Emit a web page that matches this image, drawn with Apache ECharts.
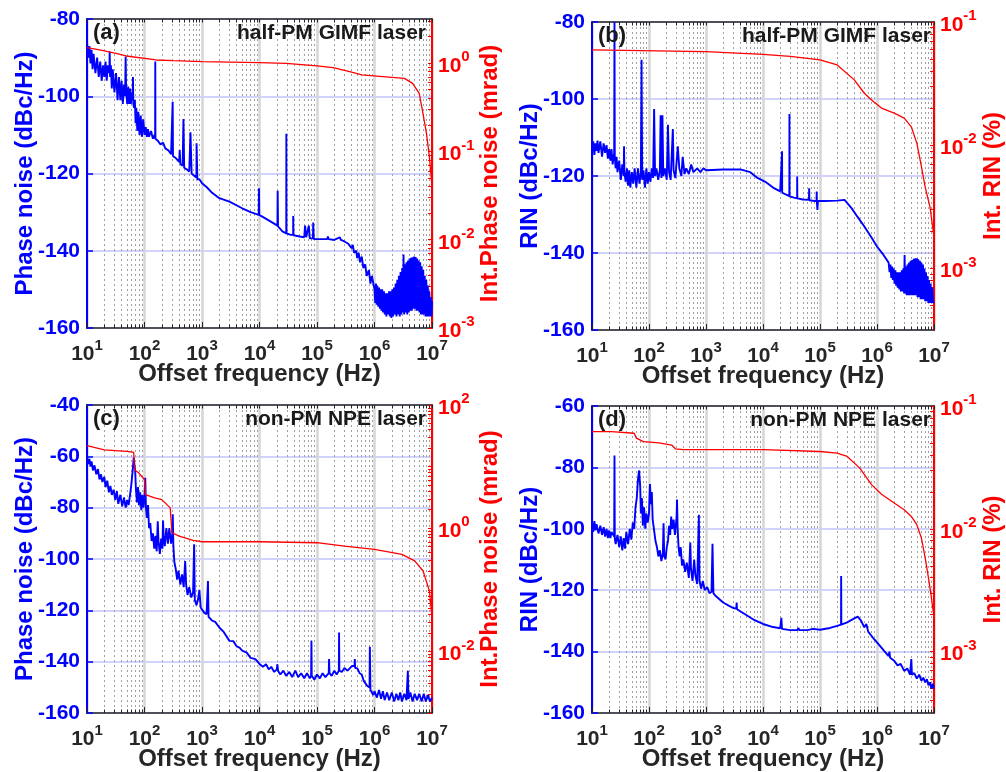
<!DOCTYPE html>
<html><head><meta charset="utf-8">
<script src="https://cdn.jsdelivr.net/npm/echarts@6/dist/echarts.min.js"></script>
<style>html,body{margin:0;padding:0;background:#fff}#c{width:1006px;height:772px}</style>
</head><body><div id="c"></div>
<script>
// ---------- data ----------
const xDecades = [10, 100, 1e3, 1e4, 1e5, 1e6, 1e7];
const xTitle = 'Offset frequency (Hz)';

// (a) half-PM GIMF laser, phase noise [Hz, dBc/Hz]
const phaseNoiseA = [[10,-86],[10.5,-90],[11,-87],[11.5,-91.5],[12,-88],[12.5,-93],[13,-89],[14,-94],[15,-90],[16,-95],[17,-91],[18,-96],[19,-92],[20,-95],[21,-91],[22,-96],[23,-92],[24.5,-94],[24.8,-88.4],[25.2,-95],[26,-92],[27,-98],[28,-93],[30,-99],[32,-94],[34,-101],[36,-95],[38,-101],[40,-96],[42,-102],[44,-97],[46,-100],[47,-89.7],[48,-99],[50,-102],[52,-97.5],[54,-102],[56,-98],[58,-102],[60,-99],[62,-101],[63,-95],[64,-102],[66,-103],[68,-101],[70,-107],[72,-103],[75,-109],[78,-104],[82,-110],[86,-105],[90,-110.5],[95,-106],[100,-110],[105,-108],[110,-110.5],[115,-108.5],[120,-110.5],[130,-109],[140,-111],[150,-110],[153,-111],[154,-91],[155,-111],[170,-111.5],[190,-112.5],[210,-112],[230,-113.5],[260,-114],[290,-115],[305,-115],[309,-101.4],[313,-115.5],[350,-116],[400,-117],[410,-113.9],[420,-117.5],[460,-118],[476,-105.9],[490,-118.5],[550,-119],[600,-119.5],[630,-109.3],[660,-120],[720,-120.5],[800,-121],[805,-112.2],[830,-121.5],[900,-121.5],[1000,-122.5],[1200,-123.5],[1500,-125],[2000,-126.4],[3000,-127.3],[5000,-129],[7000,-130],[9700,-130.7],[9800,-123.8],[9900,-130.7],[14000,-132],[20500,-133.5],[20700,-124.5],[21000,-133.7],[25000,-135],[29200,-135.5],[29300,-109.7],[29500,-135.5],[35000,-135.9],[38500,-135.9],[38600,-131],[39000,-136],[50000,-136.3],[60000,-136.5],[62000,-133.5],[65000,-136.5],[72000,-133.5],[75000,-136.8],[85000,-136.8],[86000,-132.7],[88000,-137],[1e5,-137],[1.5e5,-137],[1.55e5,-136.3],[1.6e5,-137],[2e5,-137.2],[2.5e5,-136.5],[2.6e5,-137.2],[3e5,-137.6],[3.5e5,-138.2],[4e5,-139.3],[4.2e5,-138.5],[4.4e5,-140.5],[4.8e5,-140],[5e5,-141.9],[5.3e5,-140.5],[5.6e5,-143],[6e5,-141.5],[6.4e5,-144.5],[6.9e5,-143.5],[7.3e5,-146.5],[8e5,-145],[8.5e5,-148.5],[9e5,-146.5],[1e6,-150],[1.03e6,-153.5],[1.06e6,-148.5],[1.09e6,-154],[1.12e6,-149],[1.16e6,-154.5],[1.2e6,-149.5],[1.24e6,-155],[1.28e6,-150],[1.32e6,-155.5],[1.36e6,-150],[1.41e6,-156],[1.46e6,-150.5],[1.51e6,-156.5],[1.56e6,-151],[1.61e6,-157],[1.67e6,-151],[1.73e6,-156.5],[1.79e6,-150.5],[1.85e6,-157],[1.91e6,-150.5],[1.97e6,-157.4],[2.04e6,-150],[2.11e6,-157],[2.18e6,-149.5],[2.25e6,-156.5],[2.33e6,-148.5],[2.41e6,-157],[2.49e6,-147.5],[2.57e6,-156.5],[2.66e6,-146.5],[2.75e6,-157],[2.84e6,-145.5],[2.93e6,-156.5],[3.03e6,-144.5],[3.13e6,-156],[3.2e6,-141],[3.28e6,-156.5],[3.38e6,-143.5],[3.49e6,-156],[3.6e6,-143],[3.71e6,-156.5],[3.83e6,-142.5],[3.95e6,-156],[4.07e6,-142],[4.2e6,-155.5],[4.33e6,-141.8],[4.46e6,-155.5],[4.6e6,-141.7],[4.74e6,-155],[4.89e6,-141.5],[5.04e6,-155],[5.2e6,-141.6],[5.36e6,-155.5],[5.52e6,-142],[5.69e6,-155.5],[5.87e6,-142.5],[6.05e6,-156],[6.24e6,-143],[6.43e6,-156.5],[6.63e6,-144],[6.83e6,-156.5],[7.04e6,-145],[7.26e6,-156.5],[7.48e6,-146.5],[7.71e6,-157],[7.95e6,-147.5],[8.2e6,-157],[8.45e6,-149],[8.71e6,-157],[8.98e6,-150.5],[9.26e6,-157],[9.55e6,-152],[9.8e6,-157],[1e7,-153]];
// (a) integrated phase noise [Hz, mrad]
const intPhaseA = [[10,1.497],[16.6,1.41],[32,1.29],[48,1.205],[160,1.086],[315,1.067],[1000,1.04],[1e4,1.014],[2.9e4,0.996],[3e4,0.953],[1e5,0.929],[1.9e5,0.889],[3.7e5,0.801],[6e5,0.735],[1.4e6,0.704],[3.3e6,0.673],[4.6e6,0.59],[6e6,0.455],[6.8e6,0.294],[8e6,0.161],[9e6,0.0873],[1e7,0.0399]];

// (b) half-PM GIMF laser, RIN [Hz, dBc/Hz]
const rinB = [[10,-113],[10.5,-111],[11,-114.5],[11.5,-111.5],[12,-113.5],[12.5,-110.8],[13,-114],[14,-111],[15,-115],[16,-111.5],[17,-114],[18,-112],[19,-115.5],[20,-113],[21,-116],[22,-113],[23,-117],[24.5,-114],[24.8,-80],[25.1,-115],[26,-118],[27,-115],[28,-119],[30,-116],[32,-121],[34,-117],[36,-120],[36.5,-112.3],[37,-119],[39,-121.5],[41,-118],[43,-122.5],[45,-118.5],[47,-123],[50,-119],[53,-122],[56,-118],[60,-123],[64,-118],[68,-122],[72,-119],[74,-89.8],[76,-121],[80,-118.5],[85,-123],[90,-118],[95,-122],[100,-119],[106,-121.5],[112,-118],[118,-120.5],[123,-102.6],[128,-120],[135,-118],[145,-121],[155,-118.5],[160,-104.2],[165,-120.5],[172,-104.2],[178,-120],[190,-118],[205,-121],[215,-106.7],[225,-119],[240,-121],[262,-107.8],[270,-118.5],[290,-120.5],[320,-112.3],[340,-118],[370,-120],[390,-115],[420,-119.5],[450,-118],[500,-119.5],[550,-117],[600,-119],[700,-118],[800,-119],[900,-118],[1000,-118.5],[2000,-118.3],[4000,-118.3],[6000,-119],[8000,-120.5],[11000,-121.5],[15000,-123],[20000,-124],[21500,-124.2],[21600,-113.6],[21700,-124.3],[25000,-124.8],[29000,-125.2],[29100,-103.9],[29300,-125.3],[35000,-125.6],[39700,-125.8],[39800,-120.1],[40000,-125.8],[50000,-126.1],[64000,-126.2],[64500,-123.2],[65000,-126.3],[80000,-126.5],[87000,-126.5],[87500,-124],[88000,-126.5],[90000,-128.8],[92000,-126.5],[1.2e5,-126.5],[2e5,-126.4],[2.7e5,-126.2],[3.2e5,-127.5],[3.6e5,-128.4],[4.5e5,-130.5],[6e5,-133.1],[8e5,-136],[1e6,-138.3],[1.3e6,-140.5],[1.6e6,-142.5],[1.66e6,-145],[1.72e6,-143],[1.78e6,-146.5],[1.84e6,-143.5],[1.9e6,-147],[1.96e6,-144],[2.03e6,-148],[2.1e6,-144.5],[2.17e6,-148.5],[2.24e6,-145],[2.31e6,-149],[2.39e6,-145],[2.47e6,-149.5],[2.55e6,-145],[2.63e6,-150],[2.72e6,-144.5],[2.81e6,-150],[2.9e6,-144],[2.99e6,-150.5],[3.05e6,-140.5],[3.12e6,-150.5],[3.22e6,-143.5],[3.32e6,-151],[3.43e6,-143],[3.54e6,-151],[3.65e6,-142.5],[3.77e6,-151],[3.89e6,-142],[4.01e6,-151],[4.14e6,-141.8],[4.27e6,-151],[4.41e6,-141.5],[4.55e6,-151],[4.69e6,-141.4],[4.84e6,-151],[4.99e6,-141.4],[5.15e6,-151.5],[5.31e6,-141.6],[5.48e6,-151.5],[5.65e6,-142],[5.83e6,-152],[6.01e6,-142.5],[6.2e6,-152],[6.4e6,-143],[6.6e6,-152],[6.81e6,-144],[7.02e6,-152.5],[7.24e6,-145],[7.47e6,-152.5],[7.71e6,-146],[7.95e6,-153],[8.2e6,-147],[8.46e6,-153],[8.73e6,-148],[9e6,-153],[9.3e6,-149],[9.6e6,-153],[1e7,-152.5]];
// (b) integrated RIN [Hz, %]
const intRinB = [[10,0.0593],[1000,0.0574],[1e4,0.0547],[3e4,0.0525],[1e5,0.0492],[2e5,0.0448],[4e5,0.0339],[6e5,0.0264],[8e5,0.0233],[1.2e6,0.02],[2e6,0.0182],[3e6,0.0166],[4e6,0.0141],[5e6,0.01035],[6e6,0.00676],[7e6,0.00457],[8.5e6,0.00316],[1e7,0.0018]];

// (c) non-PM NPE laser, phase noise [Hz, dBc/Hz]
const phaseNoiseC = [[10,-60],[10.5,-63],[11,-61],[11.5,-64],[12,-62],[12.7,-65.5],[13.5,-63.5],[14.5,-67],[15.5,-65],[16.5,-69],[17.5,-67],[18.5,-70],[20,-68],[21,-72],[22.5,-69.5],[24,-74],[25.5,-71.5],[27,-75],[29,-73],[31,-77],[33,-73.5],[35,-78.5],[38,-75],[41,-79.5],[44,-76],[47,-80],[50,-77],[53,-79],[56,-75],[59,-71],[62,-66],[65,-60.5],[67,-60],[69,-66],[71,-73],[74,-78],[77,-72],[80,-79],[84,-74],[88,-81],[92,-75],[96,-80],[100,-76],[103,-68.4],[106,-80],[110,-84],[115,-79],[120,-88],[126,-86],[133,-93],[140,-90],[148,-96],[155,-91],[163,-97],[170,-85.3],[175,-93],[185,-98],[195,-92],[205,-96],[210,-85],[215,-91],[225,-95],[240,-88],[255,-94],[270,-88],[290,-94],[305,-90],[310,-82.6],[318,-95],[330,-101],[350,-104],[370,-108],[390,-104.5],[420,-110],[450,-106],[480,-111],[510,-100.8],[530,-110],[560,-114],[600,-111],[650,-115],[700,-113],[730,-94.3],[750,-116],[800,-118],[850,-116],[900,-112],[950,-119],[1000,-119.5],[1100,-121],[1200,-121.5],[1270,-108.6],[1300,-122.5],[1500,-124],[1700,-124.5],[2000,-126.7],[2400,-128.5],[3000,-131.9],[3500,-132],[4000,-134],[4500,-134.5],[5000,-135.7],[6000,-136.5],[7000,-138.5],[8500,-139],[1e4,-140.9],[1.15e4,-142],[1.3e4,-141],[1.45e4,-143],[1.6e4,-142],[1.8e4,-144],[2e4,-143],[2.05e4,-141],[2.1e4,-143.5],[2.3e4,-145],[2.6e4,-143.5],[2.9e4,-145.5],[3.3e4,-144],[3.7e4,-146],[4.2e4,-143.5],[4.7e4,-146],[5.3e4,-144.5],[6e4,-146.5],[6.7e4,-144.5],[7.5e4,-146.5],[7.9e4,-145.5],[8e4,-131.9],[8.1e4,-145.5],[9e4,-147],[1e5,-145],[1.12e5,-146.5],[1.25e5,-144.5],[1.4e5,-146],[1.6e5,-144.5],[1.62e5,-139],[1.65e5,-144.5],[1.8e5,-145.5],[2e5,-143.5],[2.2e5,-145],[2.4e5,-143.5],[2.42e5,-128.6],[2.45e5,-143.5],[2.7e5,-144],[3e5,-142.5],[3.4e5,-143.5],[4e5,-141.8],[4.5e5,-141.6],[4.55e5,-139],[4.6e5,-142.5],[5e5,-142.5],[5.5e5,-144.5],[6e5,-145],[6.5e5,-147.5],[7e5,-147],[7.5e5,-149.5],[8e5,-149],[8.2e5,-150],[8.3e5,-134.2],[8.5e5,-151],[9e5,-150.5],[9.5e5,-153],[1e6,-151.5],[1.1e6,-154],[1.2e6,-151],[1.3e6,-154.5],[1.4e6,-151.5],[1.5e6,-155],[1.65e6,-152],[1.8e6,-155],[2e6,-152],[2.2e6,-155.5],[2.4e6,-152.5],[2.6e6,-155],[2.8e6,-152],[3e6,-155.5],[3.3e6,-152.5],[3.6e6,-155],[3.8e6,-143.5],[3.9e6,-154.5],[4.2e6,-152],[4.6e6,-155.5],[5e6,-152.5],[5.5e6,-155],[6e6,-152.5],[6.6e6,-155.5],[7.2e6,-152.5],[7.8e6,-155.5],[8.5e6,-153],[9.2e6,-155.5],[1e7,-154]];
// (c) integrated phase noise [Hz, mrad]
const intPhaseC = [[10,22.0],[20,18.7],[50,17.6],[65,17.0],[67,8.9],[80,7.85],[100,6.12],[104,3.51],[150,3.10],[200,2.91],[280,2.14],[300,0.843],[400,0.745],[700,0.634],[1000,0.603],[1e4,0.603],[1e5,0.581],[3e5,0.513],[1e6,0.453],[3e6,0.376],[5e6,0.294],[7e6,0.202],[9e6,0.0962],[1e7,0.0356]];

// (d) non-PM NPE laser, RIN [Hz, dBc/Hz]
const rinD = [[10,-98],[10.5,-101],[11,-97.5],[11.5,-100.5],[12,-98.5],[13,-101.5],[14,-99],[15,-102],[16,-99.5],[17,-102.5],[18,-100],[19,-103],[20,-100.5],[21,-103],[22,-101],[24.5,-102.5],[24.8,-76.1],[25.1,-103],[26,-105],[28,-102],[30,-106],[32,-102.5],[34,-107],[36,-103],[38,-106.5],[40,-101],[43,-105],[46,-100],[49,-103.5],[52,-98],[55,-100],[58,-93],[61,-90],[64,-84],[67,-81],[70,-86],[72,-95],[75,-90],[78,-99],[82,-93],[86,-100],[90,-95],[95,-98],[100,-95],[104,-85.4],[108,-92],[112,-88],[116,-97],[122,-100],[130,-104],[138,-106],[146,-109],[155,-107],[165,-110.5],[175,-108],[180,-98.2],[185,-109],[195,-110],[205,-106],[215,-104],[225,-99],[235,-102],[245,-96],[255,-100],[270,-97],[285,-102],[305,-96],[310,-90.5],[318,-100],[330,-106],[345,-109],[360,-106],[380,-112],[400,-110],[430,-114],[460,-111],[500,-116],[530,-104.5],[545,-113],[580,-117],[620,-110],[650,-115],[700,-118],[750,-95.4],[770,-117],[820,-119.5],[880,-117],[950,-120],[1050,-119],[1150,-121],[1250,-120.5],[1300,-104.9],[1350,-121],[1500,-122],[2000,-124],[2500,-125],[3000,-125.8],[3400,-126],[3450,-124],[3500,-126.2],[5000,-128],[7000,-129.7],[1e4,-131],[1.5e4,-132],[2e4,-132.4],[2.1e4,-129],[2.15e4,-132.6],[3e4,-133],[4e4,-133],[4.2e4,-132.3],[4.3e4,-133],[6e4,-133],[7.5e4,-132.6],[1e5,-132.9],[1.5e5,-132.3],[2e5,-131.6],[2.34e5,-131.2],[2.35e5,-115.4],[2.37e5,-131.2],[3e5,-130.5],[4e5,-129.2],[4.6e5,-128.6],[5.2e5,-129.8],[6e5,-132.1],[6.5e5,-131],[7e5,-133.5],[8.5e5,-135.5],[1e6,-137],[1.3e6,-139.5],[1.6e6,-141.5],[1.65e6,-140],[1.7e6,-142],[2e6,-143],[2.3e6,-144.5],[2.6e6,-144],[3e6,-146.3],[3.4e6,-145.5],[3.8e6,-147.5],[4e6,-142.4],[4.1e6,-147.5],[4.5e6,-147],[5e6,-148.8],[5.5e6,-147.5],[6e6,-149.5],[6.5e6,-148.5],[7e6,-150],[7.5e6,-149],[8e6,-151],[8.5e6,-150],[9e6,-152],[9.5e6,-150.5],[1e7,-152]];
// (d) integrated RIN [Hz, %]
const intRinD = [[10,0.0619],[22,0.0619],[23,0.06],[55,0.06],[60,0.0547],[80,0.0513],[150,0.0501],[200,0.049],[250,0.0481],[290,0.0448],[400,0.0442],[1e4,0.0442],[1e5,0.0426],[2e5,0.0413],[3e5,0.0388],[5e5,0.0312],[8e5,0.0229],[1.2e6,0.0191],[2e6,0.0162],[3e6,0.0143],[4e6,0.0126],[5e6,0.0108],[6e6,0.00843],[7e6,0.00581],[8e6,0.00398],[9e6,0.00275],[1e7,0.0019]];

// ---------- panels ----------
const panels = [
  {tag:'(a)', note:'half-PM GIMF laser', left:87, top:19, h:309, yName:'Phase noise (dBc/Hz)', yMin:-160, yMax:-80,
   rName:'Int.Phase noise (mrad)', rMin:1e-3, rMax:Math.pow(10,0.5), rLabels:[1e-3,1e-2,1e-1,1],
   blue:phaseNoiseA, red:intPhaseA, yGap:50, rGap:46},
  {tag:'(b)', note:'half-PM GIMF laser', left:592, top:22, h:308, yName:'RIN (dBc/Hz)', yMin:-160, yMax:-80,
   rName:'Int. RIN (%)', rMin:Math.pow(10,-3.5), rMax:0.1, rLabels:[1e-3,1e-2,1e-1],
   blue:rinB, red:intRinB, yGap:50, rGap:47},
  {tag:'(c)', note:'non-PM NPE laser', left:87, top:405, h:309, yName:'Phase noise (dBc/Hz)', yMin:-160, yMax:-40,
   rName:'Int.Phase noise (mrad)', rMin:1e-3, rMax:100, rLabels:[1e-2,1,100],
   blue:phaseNoiseC, red:intPhaseC, yGap:50, rGap:46},
  {tag:'(d)', note:'non-PM NPE laser', left:592, top:406, h:308, yName:'RIN (dBc/Hz)', yMin:-160, yMax:-60,
   rName:'Int. RIN (%)', rMin:Math.pow(10,-3.5), rMax:0.1, rLabels:[1e-3,1e-2,1e-1],
   blue:rinD, red:intRinD, yGap:50, rGap:47}
];

const FONT = '"Liberation Sans", Arial, sans-serif';
const BLUE = '#0000ff', RED = '#ff0000', DARK = '#262626';
const xMinor = [];
for (const d of [10,100,1e3,1e4,1e5,1e6]) for (let k = 2; k <= 9; k++) xMinor.push(d * k);
const xAll = xDecades.concat(xMinor);
const rAll = [];
for (let e = -4; e <= 2; e++) for (let k = 1; k <= 9; k++) rAll.push(k * Math.pow(10, e));

function powLabel(v) {
  const e = Math.round(Math.log10(v));
  return '{b|10}{s|' + e + '}';
}
function richFor(color) {
  return {
    b: {fontSize: 21, fontWeight: 'bold', fontFamily: FONT, color: color, lineHeight: 27, verticalAlign: 'bottom'},
    s: {fontSize: 15, fontWeight: 'bold', fontFamily: FONT, color: color, lineHeight: 16, verticalAlign: 'top'}
  };
}

const grid = [], xAxis = [], yAxis = [], series = [], title = [];
panels.forEach((p, g) => {
  grid.push({left: p.left, top: p.top, width: 345, height: p.h, containLabel: false});
  xAxis.push({type: 'log', gridIndex: g, min: 10, max: 1e7, position: 'bottom',
    axisLine: {show: true, lineStyle: {color: DARK, width: 1.5}},
    axisTick: {show: true, inside: true, length: 6, lineStyle: {color: DARK, width: 1}, customValues: xDecades},
    axisLabel: {show: true, customValues: xDecades, formatter: powLabel, margin: 10, rich: richFor(DARK), hideOverlap: false},
    splitLine: {show: true, lineStyle: {color: '#d6d6d6', width: 2.5}},
    name: xTitle, nameLocation: 'middle', nameGap: 34, nameMoveOverlap: false,
    nameTextStyle: {fontSize: 24, fontWeight: 'bold', fontFamily: FONT, color: DARK}
  });
  xAxis.push({type: 'log', gridIndex: g, min: 10, max: 1e7, position: 'bottom',
    axisLine: {show: false},
    axisTick: {show: true, inside: true, length: 3.5, lineStyle: {color: DARK, width: 1}, customValues: xMinor},
    axisLabel: {show: false},
    splitLine: {show: true, lineStyle: {color: '#a0a0a0', width: 1, type: [2, 3]}}
  });
  xAxis.push({type: 'log', gridIndex: g, min: 10, max: 1e7, position: 'top',
    axisLine: {show: true, lineStyle: {color: DARK, width: 1.5}},
    axisTick: {show: true, inside: true, length: 3.5, lineStyle: {color: DARK, width: 1}, customValues: xAll},
    axisLabel: {show: false}, splitLine: {show: false}
  });
  yAxis.push({type: 'value', gridIndex: g, min: p.yMin, max: p.yMax, interval: 20, position: 'left',
    axisLine: {show: true, lineStyle: {color: BLUE, width: 2}},
    axisTick: {show: true, inside: true, length: 6, lineStyle: {color: BLUE, width: 1.5}},
    axisLabel: {color: BLUE, fontSize: 21, fontWeight: 'bold', fontFamily: FONT, margin: 7},
    splitLine: {show: true, lineStyle: {color: '#d2d2ff', width: 2}},
    name: p.yName, nameLocation: 'middle', nameGap: p.yGap, nameRotate: 90, nameMoveOverlap: false,
    nameTextStyle: {fontSize: 24, fontWeight: 'bold', fontFamily: FONT, color: BLUE}
  });
  yAxis.push({type: 'log', gridIndex: g, min: p.rMin, max: p.rMax, position: 'right',
    axisLine: {show: true, lineStyle: {color: RED, width: 2}},
    axisTick: {show: true, inside: true, length: 4, lineStyle: {color: RED, width: 1}, customValues: rAll},
    axisLabel: {customValues: p.rLabels, formatter: powLabel, rich: richFor(RED), margin: 6},
    splitLine: {show: false},
    name: p.rName, nameLocation: 'middle', nameGap: p.rGap, nameRotate: 90, nameMoveOverlap: false,
    nameTextStyle: {fontSize: 24, fontWeight: 'bold', fontFamily: FONT, color: RED}
  });
  series.push({type: 'line', xAxisIndex: 3 * g, yAxisIndex: 2 * g, data: p.blue, showSymbol: false,
    lineStyle: {color: BLUE, width: 1.9}, itemStyle: {color: BLUE}, animation: false, z: 3});
  series.push({type: 'line', xAxisIndex: 3 * g, yAxisIndex: 2 * g + 1, data: p.red, showSymbol: false,
    lineStyle: {color: RED, width: 1.3}, itemStyle: {color: RED}, animation: false, z: 4});
  title.push({text: p.tag, left: p.left + 6, top: p.top + 3, padding: 0,
    textStyle: {fontSize: 22, fontWeight: 'bold', fontFamily: FONT, color: '#1a1a1a'}});
  title.push({text: p.note, right: 1006 - (p.left + 339), top: p.top + 4, padding: 0,
    textStyle: {fontSize: 21, fontWeight: 'bold', fontFamily: FONT, color: '#1a1a1a'}});
});

const chart = echarts.init(document.getElementById('c'), null, {renderer: 'canvas'});
chart.setOption({backgroundColor: '#fff', animation: false, title, grid, xAxis, yAxis, series});
</script>
</body></html>
